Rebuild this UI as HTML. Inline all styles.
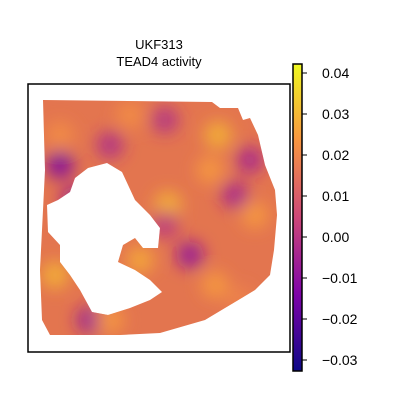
<!DOCTYPE html>
<html><head><meta charset="utf-8"><style>
body{margin:0;background:#fff;font-family:"Liberation Sans",sans-serif}
svg text{font-family:"Liberation Sans",sans-serif}
</style></head><body>
<svg width="400" height="400">
<defs>
<linearGradient id="cmap" x1="0" y1="1" x2="0" y2="0">
<stop offset="0" stop-color="#0d0887"/><stop offset="0.25" stop-color="#7e03a8"/>
<stop offset="0.5" stop-color="#cc4778"/><stop offset="0.75" stop-color="#f89540"/>
<stop offset="1" stop-color="#f0f921"/></linearGradient>
<filter id="blur" x="-50%" y="-50%" width="200%" height="200%"><feGaussianBlur stdDeviation="8"/></filter>
<clipPath id="tissue"><path clip-rule="evenodd" d="M43,100 L212,102 L220,108 L238,108 L243,120 L250,118 L258,135 L265,165 L275,190 L277,215 L274,250 L270,275 L255,290 L230,305 L205,320 L160,333 L120,335 L50,335 L42,320 L40,270 L42,230 L45,170 Z
M107,163 L122,172 L135,200 L150,215 L160,228 L158,248 L143,248 L135,238 L123,245 L118,262 L135,270 L150,280 L162,292 L150,300 L130,308 L108,315 L92,312 L80,290 L70,275 L60,262 L60,245 L48,232 L47,205 L58,200 L70,192 L75,178 L88,168 Z"/></clipPath>
</defs>
<text x="159" y="49" text-anchor="middle" font-size="13">UKF313</text>
<text x="159" y="66" text-anchor="middle" font-size="13">TEAD4 activity</text>
<rect x="28" y="84" width="262" height="268" fill="#fff" stroke="#000" stroke-width="1.5"/>
<g clip-path="url(#tissue)">
<rect x="30" y="90" width="260" height="260" fill="#e3754f"/>
<g filter="url(#blur)" id="blobs"></g>
</g>
<rect x="293" y="64" width="9" height="307" fill="url(#cmap)" stroke="#000" stroke-width="1.5"/>
<g id="cticks"></g>
</svg>
<script>
const tickValues=[0.04,0.03,0.02,0.01,0.00,-0.01,-0.02,-0.03];
const tickLabels=["0.04","0.03","0.02","0.01","0.00","\u22120.01","\u22120.02","\u22120.03"];
const blobX=[218,168,60,235,165,55,255,60,110,190,215,210,130,90,250,110,165,75,140,240];
const blobY=[135,205,165,195,225,275,215,135,145,255,285,170,115,320,160,320,120,200,260,300];
const blobV=[0.03,0.03,-0.015,-0.005,0.0,0.03,0.025,0.022,-0.003,-0.01,0.025,0.025,0.022,-0.008,-0.005,0.025,-0.002,-0.01,0.028,0.02];
const vmin=-0.0325,vmax=0.0425;
function cy(v){return 73+(0.04-v)*(360-73)/0.07;}
function col(v){const t=(v-vmin)/(vmax-vmin);
const s=[[13,8,135],[126,3,168],[204,71,120],[248,149,64],[240,249,33]];
const p=Math.max(0,Math.min(3.999,t*4)),i=Math.floor(p),f=p-i;
return `rgb(${s[i].map((c,k)=>Math.round(c+(s[i+1][k]-c)*f)).join(',')})`;}
const NS="http://www.w3.org/2000/svg";
const bg=document.getElementById('blobs');
blobV.forEach((v,i)=>{const c=document.createElementNS(NS,'circle');
c.setAttribute('cx',blobX[i]);c.setAttribute('cy',blobY[i]);c.setAttribute('r',14);c.setAttribute('fill',col(v));c.setAttribute('fill-opacity','0.8');


bg.appendChild(c);});
const g=document.getElementById('cticks');
tickValues.forEach((v,i)=>{const y=cy(v);
const l=document.createElementNS(NS,'line');l.setAttribute('x1',302);l.setAttribute('x2',307);l.setAttribute('y1',y);l.setAttribute('y2',y);l.setAttribute('stroke','#000');


g.appendChild(l);
const t=document.createElementNS(NS,'text');t.setAttribute('x',322);t.setAttribute('y',y+5);t.setAttribute('font-size','14');t.textContent=tickLabels[i];


g.appendChild(t);});
</script>
</body></html>
